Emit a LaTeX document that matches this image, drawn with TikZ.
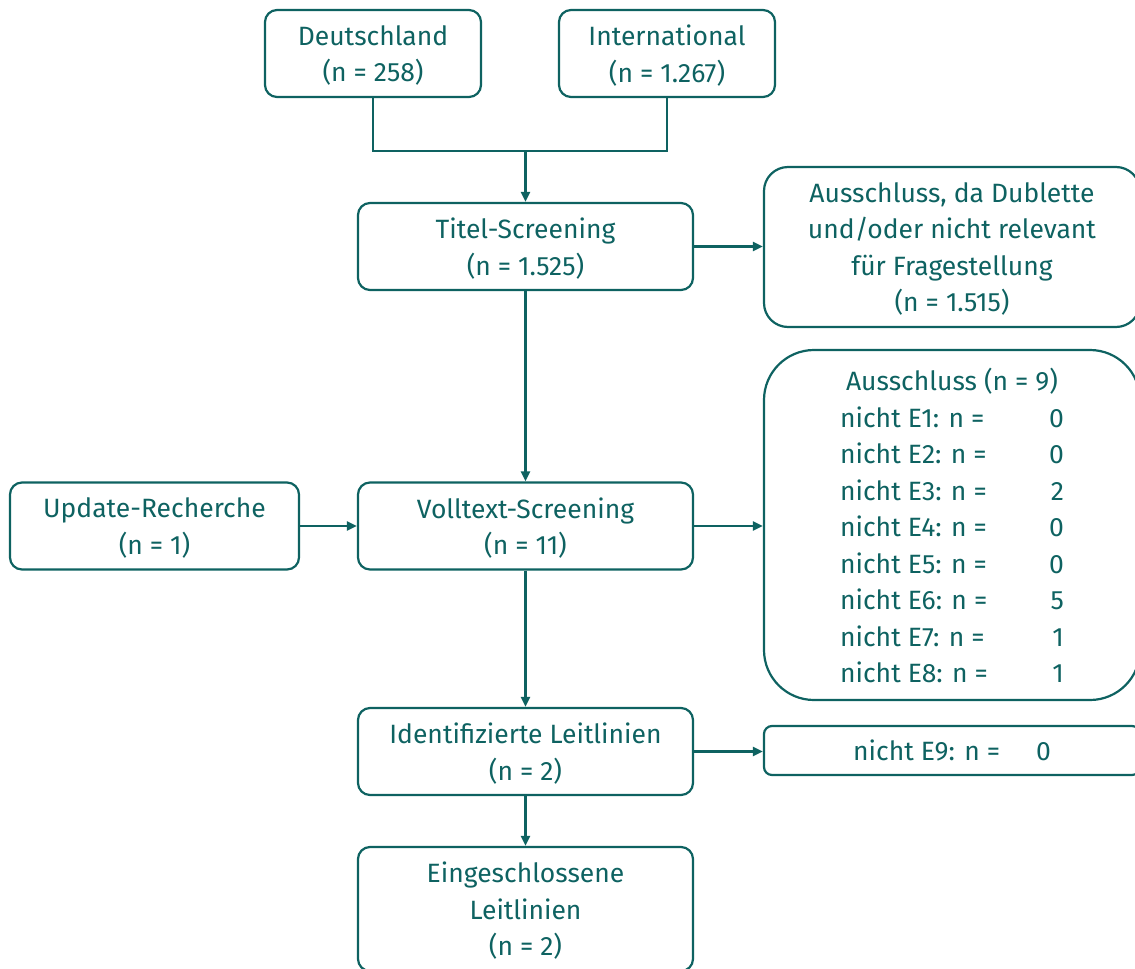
\documentclass[tikz,border=0pt]{standalone}
\usepackage{fontspec}
\setmainfont{Fira Sans}
\definecolor{myteal}{RGB}{14,98,97}
\usetikzlibrary{arrows.meta,positioning}

\begin{document}
\begin{tikzpicture}[x=1pt,y=-1pt,
    every node/.style={font=\fontsize{26.5}{36.5}\selectfont,text=myteal,align=center},
    box/.style={draw=myteal,line width=2.2pt,rounded corners=12pt,inner sep=0pt,minimum height=87pt,text depth=0pt},
    srcbox/.style={box,minimum width=216pt},
    midbox/.style={box,minimum width=335pt},
    outbox/.style={box,minimum width=376pt},
    line/.style={draw=myteal,line width=2.2pt},
    arrow/.style={line,-{Triangle[length=10pt,width=9pt]}}
    ]
    \useasboundingbox (0,0) rectangle (1135,969);

    % the sources
    \node[srcbox] (deu) at (373,53.5) {Deutschland\\(n = 258)};
    \node[srcbox] (int) at (667,53.5) {International\\(n = 1.267)};
    \coordinate (join) at (525.5,151);

    % the middle column
    \node[midbox] (titel) at (525.5,246.5) {Titel-Screening\\(n = 1.525)};
    \node[midbox] (voll) at (525.5,526) {Volltext-Screening\\(n = 11)};
    \node[midbox] (ident) at (525.5,751.5) {Identifizierte Leitlinien\\(n = 2)};
    \node[midbox,minimum height=124pt] (ein) at (525.5,909) {Eingeschlossene\\Leitlinien\\(n = 2)};
    \node[box,minimum width=289pt] (upd) at (154.5,526) {Update-Recherche\\(n = 1)};

    % the exclusions
    \node[outbox,minimum height=160pt,rounded corners=24pt] (dub) at (952,247)
        {Ausschluss, da Dublette\\und/oder nicht relevant\\für Fragestellung\\(n = 1.515)};
    \node[outbox,minimum height=350pt,rounded corners=50pt,text depth=] (aus) at (952,525)
        {\begin{tabular}{@{}l@{\hspace{36pt}}r@{}}
        \multicolumn{2}{c}{Ausschluss (n = 9)}\\
        nicht E1: n = & 0\\
        nicht E2: n = & 0\\
        nicht E3: n = & 2\\
        nicht E4: n = & 0\\
        nicht E5: n = & 0\\
        nicht E6: n = & 5\\
        nicht E7: n = & 1\\
        nicht E8: n = & 1\\[-9pt]
        \end{tabular}};
    \node[outbox,minimum height=49pt,rounded corners=8pt,text depth=] (e9) at (952,750.5)
        {\begin{tabular}{@{}l@{\hspace{36pt}}r@{}}nicht E9: n = & 0\\[-6pt]\end{tabular}};

    % the edges
    \draw[line] (deu.south) |- (join) -| (int.south);
    \draw[arrow] (join) -- (titel.north);
    \draw[arrow] (titel) -- (voll);
    \draw[arrow] (voll) -- (ident);
    \draw[arrow] (ident) -- (ein);
    \draw[arrow] (upd) -- (voll);
    \draw[arrow] (titel.east) -- (dub.west |- titel.east);
    \draw[arrow] (voll.east) -- (aus.west |- voll.east);
    \draw[arrow] (ident.east) -- (e9.west |- ident.east);
\end{tikzpicture}
\end{document}
